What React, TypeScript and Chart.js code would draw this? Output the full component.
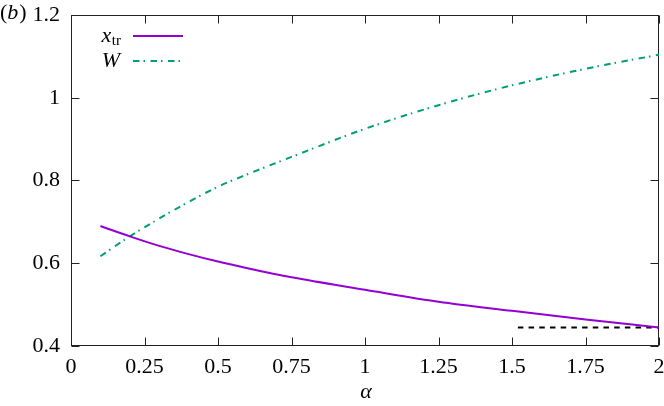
import { useEffect, useRef } from 'react';
import { Chart, registerables } from 'chart.js';

Chart.register(...registerables);

// ---- data ----
const alpha = [0.1, 0.2, 0.3, 0.4, 0.5, 0.6, 0.75, 1.0, 1.25, 1.5, 1.75, 2.0];
const xTr = [0.69, 0.665, 0.642, 0.622, 0.604, 0.588, 0.566, 0.536, 0.507, 0.485, 0.464, 0.445];
const wValues = [0.617, 0.665, 0.708, 0.748, 0.785, 0.815, 0.857, 0.925, 0.982, 1.03, 1.07, 1.104];
const refAlpha = [1.52, 2.0];
const refValue = [0.445, 0.445];

const xTicks = [0, 0.25, 0.5, 0.75, 1, 1.25, 1.5, 1.75, 2];
const xTickLabels = ['0', '0.25', '0.5', '0.75', '1', '1.25', '1.5', '1.75', '2'];
const yTicks = [0.4, 0.6, 0.8, 1.0, 1.2];
const yTickLabels = ['0.4', '0.6', '0.8', '1', '1.2'];

const FONT = "'Liberation Serif', 'Times New Roman', serif";
const PURPLE = '#9400d3';
const GREEN = '#009e73';
const GREEN_DASH = [6.5, 4, 1.5, 5.5];
const BLACK_DASH = [5.5, 5.2];

Chart.defaults.font.family = FONT;

const framePlugin = {
  id: 'frame',
  beforeDatasetsDraw(chart: any) {
    const { ctx, chartArea: a, scales } = chart;
    const xs = scales.x;
    const ys = scales.y;
    const L = Math.round(a.left) + 0.5;
    const R = Math.round(a.right) - 0.5;
    const T = Math.round(a.top) + 0.5;
    const B = Math.round(a.bottom) - 0.5;
    ctx.save();
    ctx.strokeStyle = '#222';
    ctx.lineWidth = 1;
    ctx.strokeRect(L, T, R - L, B - T);
    const tl = 8;
    ctx.beginPath();
    xTicks.forEach((v) => {
      const px = Math.round(xs.getPixelForValue(v)) + 0.5;
      ctx.moveTo(px, B);
      ctx.lineTo(px, B - tl);
      ctx.moveTo(px, T);
      ctx.lineTo(px, T + tl);
    });
    yTicks.forEach((v) => {
      const py = Math.round(ys.getPixelForValue(v)) + 0.5;
      ctx.moveTo(L, py);
      ctx.lineTo(L + tl, py);
      ctx.moveTo(R, py);
      ctx.lineTo(R - tl, py);
    });
    ctx.stroke();
    ctx.restore();
  },
  afterDraw(chart: any) {
    const { ctx } = chart;
    ctx.save();
    ctx.fillStyle = '#000';
    // panel label
    ctx.textBaseline = 'alphabetic';
    ctx.textAlign = 'left';
    ctx.font = `22px ${FONT}`;
    ctx.fillText('(', 0, 19);
    const pw = ctx.measureText('(').width;
    ctx.font = `italic 22px ${FONT}`;
    ctx.fillText('b', pw, 19);
    const bw = ctx.measureText('b').width;
    ctx.font = `22px ${FONT}`;
    ctx.fillText(')', pw + bw + 1, 19);

    // axis title
    ctx.textAlign = 'center';
    ctx.font = `italic 22px ${FONT}`;
    ctx.fillText('α', 366, 398);

    // legend
    ctx.textAlign = 'right';
    ctx.font = `15px ${FONT}`;
    const trW = ctx.measureText('tr').width;
    ctx.fillText('tr', 121, 45);
    ctx.font = `italic 22px ${FONT}`;
    ctx.fillText('x', 121 - trW - 0.5, 42);
    ctx.fillText('W', 120, 67);

    ctx.lineWidth = 2;
    ctx.strokeStyle = PURPLE;
    ctx.beginPath();
    ctx.moveTo(133, 36);
    ctx.lineTo(183, 36);
    ctx.stroke();
    ctx.strokeStyle = GREEN;
    ctx.setLineDash(GREEN_DASH);
    ctx.beginPath();
    ctx.moveTo(133, 61);
    ctx.lineTo(183, 61);
    ctx.stroke();
    ctx.restore();
  },
};

export default function App() {
  const ref = useRef<HTMLCanvasElement>(null);
  useEffect(() => {
    const canvas = ref.current;
    if (!canvas) return;
    const chart = new Chart(canvas, {
      type: 'line',
      data: {
        datasets: [
          {
            label: 'x_tr',
            data: alpha.map((a, i) => ({ x: a, y: xTr[i] })),
            borderColor: PURPLE,
            borderWidth: 2,
            pointRadius: 0,
            cubicInterpolationMode: 'monotone',
            fill: false,
          },
          {
            label: 'W',
            data: alpha.map((a, i) => ({ x: a, y: wValues[i] })),
            borderColor: GREEN,
            borderWidth: 2,
            borderDash: GREEN_DASH,
            pointRadius: 0,
            cubicInterpolationMode: 'monotone',
            fill: false,
          },
          {
            label: 'ref',
            data: refAlpha.map((a, i) => ({ x: a, y: refValue[i] })),
            borderColor: '#000',
            borderWidth: 2,
            borderDash: BLACK_DASH,
            pointRadius: 0,
            fill: false,
          },
        ],
      },
      options: {
        responsive: false,
        animation: false,
        devicePixelRatio: 1,
        layout: { padding: { top: 15, right: 5, left: 0, bottom: 0 } },
        plugins: {
          legend: { display: false },
          tooltip: { enabled: false },
        },
        scales: {
          x: {
            type: 'linear',
            min: 0,
            max: 2,
            grid: { display: false, drawTicks: false },
            border: { display: false },
            afterBuildTicks: (s: any) => {
              s.ticks = xTicks.map((v) => ({ value: v }));
            },
            afterFit: (s: any) => {
              s.height = 60;
              s.paddingLeft = 0;
              s.paddingRight = 0;
            },
            ticks: {
              autoSkip: false,
              maxRotation: 0,
              padding: 8,
              color: '#000',
              font: { family: FONT, size: 22 },
              callback: (_v: any, i: number) => xTickLabels[i],
            },
          },
          y: {
            type: 'linear',
            min: 0.4,
            max: 1.2,
            grid: { display: false, drawTicks: false },
            border: { display: false },
            afterBuildTicks: (s: any) => {
              s.ticks = yTicks.map((v) => ({ value: v }));
            },
            afterFit: (s: any) => {
              s.width = 71;
              s.paddingTop = 0;
              s.paddingBottom = 0;
            },
            ticks: {
              autoSkip: false,
              padding: 11,
              color: '#000',
              font: { family: FONT, size: 22 },
              callback: (_v: any, i: number) => yTickLabels[i],
            },
          },
        },
      },
      plugins: [framePlugin],
    } as any);
    return () => chart.destroy();
  }, []);
  return (
    <div style={{ position: 'absolute', left: 0, top: 0, width: 664, height: 406, background: '#fff' }}>
      <canvas ref={ref} width={664} height={406} style={{ display: 'block' }} />
    </div>
  );
}
